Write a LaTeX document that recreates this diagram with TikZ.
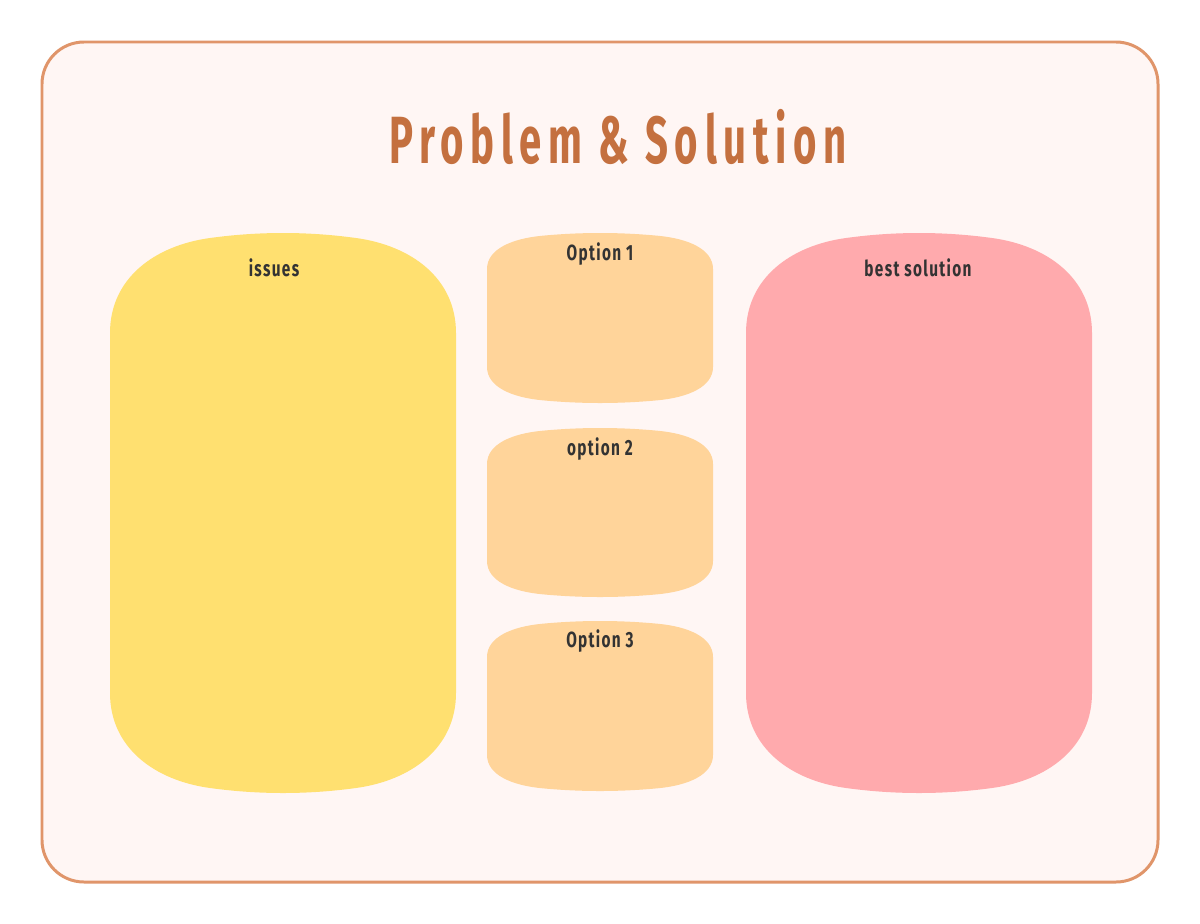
\documentclass[tikz,border=0pt]{standalone}
\usepackage{fontspec}
\setmainfont{Fira Sans}
\newfontfamily\headfont[FakeStretch=0.6,LetterSpace=10]{Fira Sans}
\newfontfamily\labelfont[FakeStretch=0.7,LetterSpace=6]{Fira Sans}
\definecolor{framebg}{HTML}{FFF6F4}
\definecolor{frameline}{HTML}{E0956A}
\definecolor{titlecol}{HTML}{C4703F}
\definecolor{issuecol}{HTML}{FFE070}
\definecolor{optcol}{HTML}{FFD49A}
\definecolor{bestcol}{HTML}{FFAAAD}
\definecolor{labelcol}{HTML}{333333}
% blob: x1, y1, x2, y2, corner x, corner y, colour
\newcommand\blob[7]{%
  \pgfmathsetmacro\bL{(#3-#1-2*#5)/3}
  \pgfmathsetmacro\bE{0.05*#5}
  \pgfmathsetmacro\bS{0.55*#5*4*\bE/(3*\bL)}
  \fill[#7] (#1,{#2+#6})
    .. controls (#1,{#2+0.45*#6}) and ({#1+0.45*#5},{#2+\bE+\bS}) .. ({#1+#5},{#2+\bE})
    .. controls ({#1+#5+\bL},{#2-\bE/3}) and ({#3-#5-\bL},{#2-\bE/3}) .. ({#3-#5},{#2+\bE})
    .. controls ({#3-0.45*#5},{#2+\bE+\bS}) and (#3,{#2+0.45*#6}) .. (#3,{#2+#6})
    -- (#3,{#4-#6})
    .. controls (#3,{#4-0.45*#6}) and ({#3-0.45*#5},{#4-\bE-\bS}) .. ({#3-#5},{#4-\bE})
    .. controls ({#3-#5-\bL},{#4+\bE/3}) and ({#1+#5+\bL},{#4+\bE/3}) .. ({#1+#5},{#4-\bE})
    .. controls ({#1+0.45*#5},{#4-\bE-\bS}) and (#1,{#4-0.45*#6}) .. (#1,{#4-#6}) -- cycle;}
\tikzset{
  boxlabel/.style={text=labelcol, font=\labelfont\bfseries\fontsize{12.5}{14}\selectfont, inner sep=0pt},
}
\begin{document}
\begin{tikzpicture}[x=0.02cm, y=-0.02cm, line join=round, line cap=round]
		\useasboundingbox (0,0) rectangle (1200,923);
		\fill[white] (0,0) rectangle (1200,923);
		\draw[line width=1.7pt, draw=frameline, fill=framebg, rounded corners=0.84cm] (42,42) rectangle (1158,882);
		\node[text=titlecol, inner sep=0pt] (title) at (618,137) {\headfont\bfseries\fontsize{38}{40}\selectfont Problem \& Solution};
		% boxes
		\blob{110}{233}{456}{793}{100}{100}{issuecol}
		\blob{487}{233}{713}{403}{55}{36}{optcol}
		\blob{487}{428}{713}{597}{55}{36}{optcol}
		\blob{487}{621}{713}{791}{55}{36}{optcol}
		\blob{746}{233}{1092}{793}{100}{100}{bestcol}
		\node[boxlabel] (issues) at (274,268) {issues};
		\node[boxlabel] (opt1) at (600,254) {Option 1};
		\node[boxlabel] (opt2) at (600,449) {option 2};
		\node[boxlabel] (opt3) at (600,641) {Option 3};
		\node[boxlabel] (best) at (918,268) {best solution};
\end{tikzpicture}
\end{document}
